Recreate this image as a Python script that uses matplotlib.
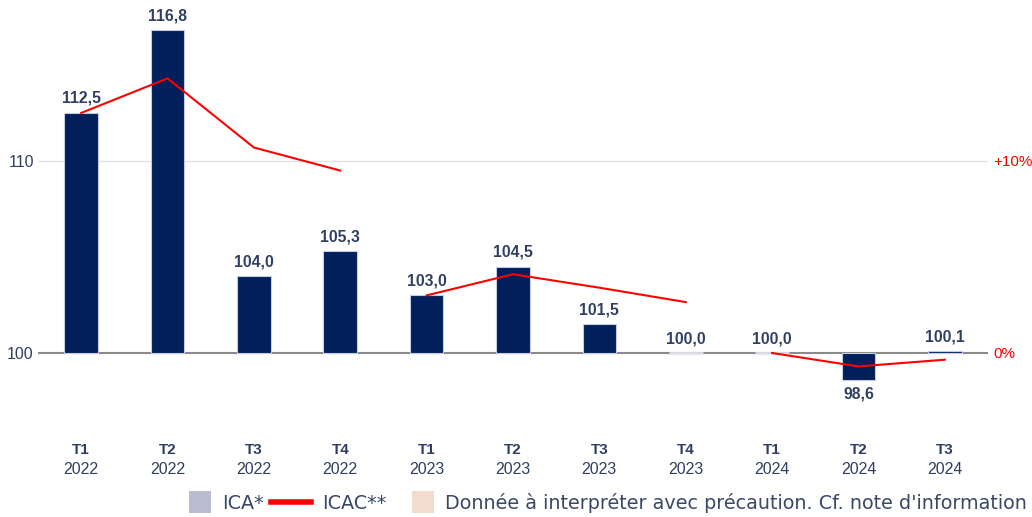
import numpy as np
import matplotlib.pyplot as plt
from matplotlib.patches import Patch, Rectangle
from matplotlib.lines import Line2D
from matplotlib.legend_handler import HandlerPatch

# ICA (indice, base 100) et ICAC (% cumulé)
trimestres = ["T1", "T2", "T3", "T4", "T1", "T2", "T3", "T4", "T1", "T2", "T3"]
annees = ["2022", "2022", "2022", "2022", "2023", "2023", "2023", "2023", "2024", "2024", "2024"]
ica = [112.5, 116.8, 104.0, 105.3, 103.0, 104.5, 101.5, 100.0, 100.0, 98.6, 100.1]
icac_2022 = [12.5, 14.3, 10.7, 9.5]
icac_2023 = [3.0, 4.1, 3.4, 2.65]
icac_2024 = [0.0, -0.7, -0.35]

navy = "#001f5b"
txt = "#2e3f63"
arial = ["Liberation Sans", "DejaVu Sans"]
base = 100

plt.rcParams["font.family"] = arial

fig = plt.figure(figsize=(10.32, 5.17), dpi=100)
ax = fig.add_axes([38 / 1032, 97 / 517, 950 / 1032, 400 / 517])
x = np.arange(len(ica))

heights = [v - base for v in ica]
colors = ["#e4e6ee" if h == 0 else navy for h in heights]
ax.bar(x, heights, bottom=base, width=0.39, color=colors,
       edgecolor=["#dfe1ea" if h == 0 else "#c5cbe0" for h in heights],
       linewidth=[2 if h == 0 else 0.8 for h in heights], zorder=3)

for xi, v in zip(x, ica):
    lab = f"{v:.1f}".replace(".", ",")
    if v >= base:
        ax.annotate(lab, (xi, v), xytext=(0, 5), textcoords="offset points",
                    ha="center", va="bottom", fontsize=11.3, fontweight="bold", color=txt,
                    family=arial)
    else:
        ax.annotate(lab, (xi, v), xytext=(0, -5), textcoords="offset points",
                    ha="center", va="top", fontsize=11.3, fontweight="bold", color=txt,
                    family=arial)

ax.set_xlim(-0.5, 10.5)
ax.set_ylim(96.51, 117.34)
ax.axhline(110, color="#e3e3e3", lw=1, zorder=1)
ax.axhline(100, color="#8a8a8a", lw=1.5, zorder=2)
ax.set_yticks([100, 110])
ax.set_yticklabels(["100", "110"], fontsize=11.5, color=txt, family=arial)
ax.tick_params(axis="y", length=0, pad=3)
ax.set_xticks(x)
ax.set_xticklabels([])
ax.tick_params(axis="x", length=0)
for s in ax.spines.values():
    s.set_visible(False)

for xi, t, a in zip(x, trimestres, annees):
    ax.text(xi, -0.075, t, transform=ax.get_xaxis_transform(), ha="center", va="center",
            fontsize=11, fontweight="bold", color=txt, family=arial)
    ax.text(xi, -0.125, a, transform=ax.get_xaxis_transform(), ha="center", va="center",
            fontsize=11.5, color=txt, family=arial)

# axe secondaire pour l'ICAC
ax2 = ax.twinx()
ax2.set_ylim(96.51 - base, 117.34 - base)
ax2.plot(x[0:4], icac_2022, color="#ff0000", lw=1.5, zorder=4)
ax2.plot(x[4:8], icac_2023, color="#ff0000", lw=1.5, zorder=4)
ax2.plot(x[8:11], icac_2024, color="#ff0000", lw=1.5, zorder=4)
ax2.set_yticks([0, 10])
ax2.set_yticklabels(["0%", "+10%"], fontsize=11, color="#ff0000", family=arial)
ax2.tick_params(axis="y", length=0, pad=4)
for s in ax2.spines.values():
    s.set_visible(False)


def square(legend, orig_handle, xdescent, ydescent, width, height, fontsize):
    s = height * 1.6
    return Rectangle((width - s, (height - s) / 2 - ydescent), s, s)


handles = [Patch(facecolor="#b9bccf", edgecolor="none"),
           Line2D([0], [0], color="#ff0000", lw=4),
           Patch(facecolor="#f3dccd", edgecolor="none")]
fig.legend(handles, ["ICA*", "ICAC**", "Donnée à interpréter avec précaution. Cf. note d'information"],
           loc="lower right", bbox_to_anchor=(1.012, -0.025), ncol=3, frameon=False,
           prop={"family": "DejaVu Sans", "size": 13.8}, labelcolor="#3a4868",
           handlelength=2.1, handletextpad=0.6, columnspacing=0.35,
           handler_map={Patch: HandlerPatch(patch_func=square)})

fig.savefig("out.png", dpi=100)
